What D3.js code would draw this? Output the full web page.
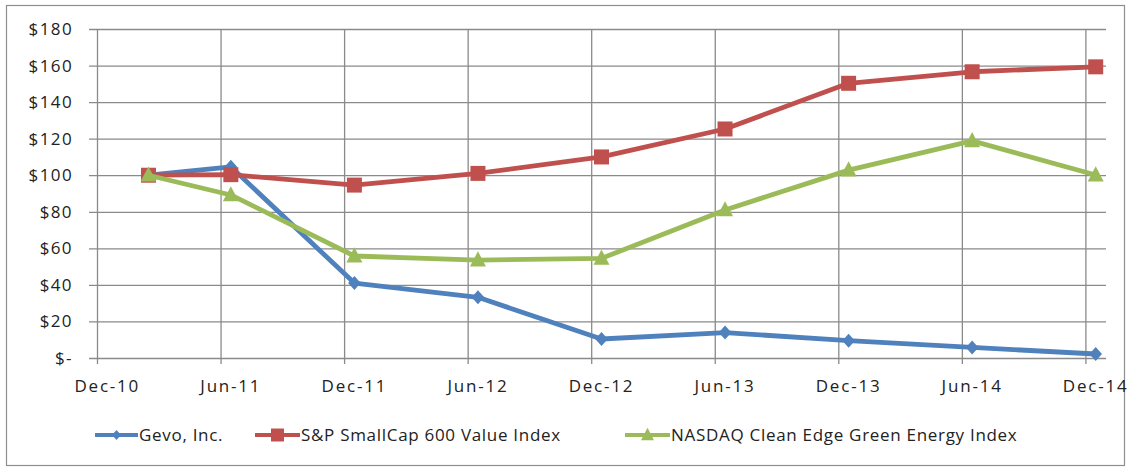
<!DOCTYPE html>
<html>
<head>
<meta charset="utf-8">
<script src="https://cdn.jsdelivr.net/npm/d3@7"></script>
<style>
  html, body { margin: 0; padding: 0; background: #fff; }
  svg text { font-family: "Open Sans", "Liberation Sans", sans-serif; fill: #222; }
</style>
</head>
<body>
<svg id="chart" width="1133" height="468"></svg>
<script>
// ---- data ----
const dates = ["Feb-11", "Jun-11", "Dec-11", "Jun-12", "Dec-12", "Jun-13", "Dec-13", "Jun-14", "Dec-14"];
const gevo = [100, 104.6, 41, 33.2, 10.4, 13.9, 9.5, 5.8, 2.2];
const spValue = [100, 100.3, 94.6, 101, 110, 125.3, 150.3, 156.6, 159.3];
const nasdaqGreen = [100, 89.2, 55.8, 53.6, 54.5, 81, 102.8, 118.8, 100.1];
const seriesNames = ["Gevo, Inc.", "S&P SmallCap 600 Value Index", "NASDAQ Clean Edge Green Energy Index"];
const xTickLabels = ["Dec-10", "Jun-11", "Dec-11", "Jun-12", "Dec-12", "Jun-13", "Dec-13", "Jun-14", "Dec-14"];
const yTickValues = [0, 20, 40, 60, 80, 100, 120, 140, 160, 180];

(function () {
// ---- layout ----
const svg = d3.select("#chart");
const parse = d3.timeParse("%b-%y");
const origin = parse("Dec-10");
const monthIdx = s => d3.timeMonth.count(origin, parse(s));

const pLeft = 97, pRight = 1106, pTop = 29, pBottom = 358;
const x = d3.scaleLinear().domain([0, 49]).range([pLeft, pRight]);
const y = d3.scaleLinear().domain([0, 180]).range([pBottom, pTop]);

// outer border
svg.append("rect").attr("x", 6.5).attr("y", 5.5).attr("width", 1118).attr("height", 460)
  .attr("fill", "#fff").attr("stroke", "#8e8e8e").attr("stroke-width", 1.2);

const gridColor = "#8a8a8a";

// horizontal grid + y ticks
const yAxis = d3.axisLeft(y).tickValues(yTickValues).tickSize(8).tickPadding(16)
  .tickFormat(d => d === 0 ? "$-" : "$" + d);
const gy = svg.append("g").attr("transform", `translate(${pLeft},0)`).call(yAxis);
gy.select(".domain").remove();
gy.selectAll(".tick line").attr("stroke", gridColor).attr("stroke-width", 1.3)
  .attr("x1", -8).attr("x2", pRight - pLeft);
gy.selectAll(".tick text").attr("font-size", 17).attr("letter-spacing", 1.4).attr("fill", "#222")
  .attr("font-family", "Open Sans");

// vertical grid + x ticks
const tickIdx = xTickLabels.map(monthIdx);
const xAxis = d3.axisBottom(x).tickValues(tickIdx).tickSize(6).tickFormat(() => "");
const gx = svg.append("g").attr("transform", `translate(0,${pBottom})`).call(xAxis);
gx.select(".domain").remove();
gx.selectAll(".tick line").attr("stroke", gridColor).attr("stroke-width", 1.3)
  .attr("y1", pTop - pBottom).attr("y2", 6);
// labels centered in the month slot
svg.append("g").selectAll("text").data(xTickLabels).join("text")
  .attr("x", d => x(monthIdx(d) + 0.5))
  .attr("y", 392)
  .attr("text-anchor", "middle")
  .attr("font-size", 17).attr("letter-spacing", 1.8)
  .text(d => d);

// ---- series ----
const colors = ["#4F81BD", "#C0504D", "#9BBB59"];
const allSeries = [gevo, spValue, nasdaqGreen];
const markers = ["diamond", "square", "triangle"];

function markerPath(type, s) {
  if (type === "diamond") return `M0,${-s}L${s*0.9},0L0,${s}L${-s*0.9},0Z`;
  if (type === "square") return `M${-s},${-s}H${s}V${s}H${-s}Z`;
  return `M0,${-s*1.1}L${s},${s*0.8}L${-s},${s*0.8}Z`;
}
const markerSize = [7, 7.5, 8];

const line = d3.line().x(d => x(monthIdx(d.date) + 0.5)).y(d => y(d.v));

allSeries.forEach((vals, i) => {
  const pts = dates.map((d, j) => ({ date: d, v: vals[j] }));
  const g = svg.append("g");
  g.append("path").datum(pts).attr("d", line).attr("fill", "none")
    .attr("stroke", colors[i]).attr("stroke-width", 4.8).attr("stroke-linejoin", "round");
  g.selectAll("path.m").data(pts).join("path").attr("class", "m")
    .attr("transform", d => `translate(${x(monthIdx(d.date) + 0.5)},${y(d.v)})`)
    .attr("d", markerPath(markers[i], markerSize[i]))
    .attr("fill", colors[i]);
});

// ---- legend ----
const legendItems = [
  { x0: 95, x1: 138 },
  { x0: 255, x1: 300 },
  { x0: 625, x1: 670 }
];
const ly = 435;
const lg = svg.append("g");
seriesNames.forEach((name, i) => {
  const it = legendItems[i];
  lg.append("line").attr("x1", it.x0).attr("x2", it.x1).attr("y1", ly).attr("y2", ly)
    .attr("stroke", colors[i]).attr("stroke-width", 4);
  lg.append("path").attr("transform", `translate(${(it.x0 + it.x1) / 2},${ly})`)
    .attr("d", markerPath(markers[i], [5, 6.5, 6.5][i])).attr("fill", colors[i]);
  lg.append("text").attr("x", it.x1 + 1).attr("y", ly + 6).attr("font-size", 17)
    .attr("letter-spacing", 0.7).text(name);
});
})();
</script>
</body>
</html>
